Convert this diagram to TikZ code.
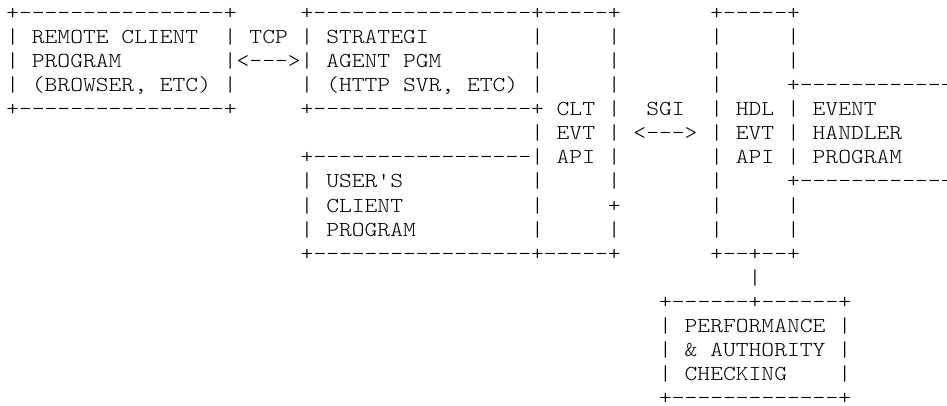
\documentclass[tikz,border=0pt]{standalone}
\usepackage{fontspec}
% a light serif typewriter face, widened to a 12.8pt character cell
\setmonofont{Latin Modern Mono Light}[FakeStretch=1.143]
% one character cell of the monospaced grid
\newlength\cellw
\setlength\cellw{12.8pt}
\newcommand\cgap[1]{\hspace*{#1\cellw}}
% \asciirow{name}{column}{line}{text}
\newcommand\asciirow[4]{\node[ascii] (#1) at ({6.3pt+#2*12.8pt},{4.9pt-#3*24.1pt}) {#4};}
\tikzset{
  ascii/.style={anchor=base west, inner sep=0pt, outer sep=0pt,
    font=\ttfamily\fontsize{21.33pt}{24.1pt}\selectfont, text=black}
}
\begin{document}
\begin{tikzpicture}
\useasboundingbox (0,0) rectangle (947pt,-406pt);
\clip (0,0) rectangle (947pt,-406pt);
% client side, API columns and the event handler
\asciirow{r1}{0}{1}{+----------------+\cgap{5}+-----------------+-----+\cgap{7}+-----+}
\asciirow{r2}{0}{2}{| REMOTE CLIENT\cgap{2}| TCP | STRATEGI\cgap{8}|\cgap{5}|\cgap{7}|\cgap{5}|}
\asciirow{r3}{0}{3}{| PROGRAM\cgap{8}|<--->| AGENT PGM\cgap{7}|\cgap{5}|\cgap{7}|\cgap{5}|}
\asciirow{r4}{0}{4}{| (BROWSER, ETC) |\cgap{5}| (HTTP SVR, ETC) |\cgap{5}|\cgap{7}|\cgap{5}+------------}
\asciirow{r5}{0}{5}{+----------------+\cgap{5}+-----------------+ CLT |\cgap{2}SGI\cgap{2}| HDL | EVENT}
\asciirow{r6}{41}{6}{| EVT | <---> | EVT | HANDLER}
\asciirow{r7}{23}{7}{+-----------------| API |\cgap{7}| API | PROGRAM}
\asciirow{r8}{23}{8}{| USER'S\cgap{10}|\cgap{5}|\cgap{7}|\cgap{5}+------------}
\asciirow{r9}{23}{9}{| CLIENT\cgap{10}|\cgap{5}+\cgap{7}|\cgap{5}|}
\asciirow{r10}{23}{10}{| PROGRAM\cgap{9}|\cgap{5}|\cgap{7}|\cgap{5}|}
\asciirow{r11}{23}{11}{+-----------------+-----+\cgap{7}+--+--+}
% checking box below the handler API
\asciirow{r12}{58}{12}{|}
\asciirow{r13}{51}{13}{+------+------+}
\asciirow{r14}{51}{14}{| PERFORMANCE |}
\asciirow{r15}{51}{15}{| \& AUTHORITY |}
\asciirow{r16}{51}{16}{| CHECKING\cgap{4}|}
\asciirow{r17}{51}{17}{+-------------+}
\end{tikzpicture}
\end{document}
